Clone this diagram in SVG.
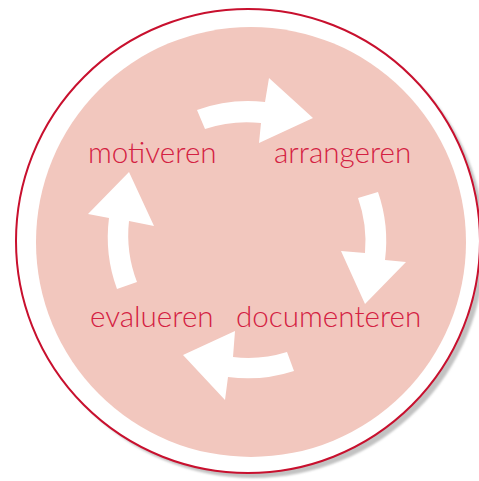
<svg xmlns="http://www.w3.org/2000/svg" width="479" height="481" viewBox="0 0 479 481">
<style>
.lbl{font-family:Lato,"Liberation Sans",sans-serif;font-weight:300;font-size:29.6px;fill:#D42142}
.arr{fill:#fff}
</style>
<defs>
<filter id="sh" x="-10%" y="-10%" width="120%" height="120%"><feGaussianBlur stdDeviation="1"/></filter>
</defs>
<g id="background">
<circle cx="253" cy="246" r="232" fill="#c2c2c2" filter="url(#sh)"/>
<circle cx="248" cy="241" r="232" fill="#fff" stroke="#C8102E" stroke-width="2"/>
<circle cx="251" cy="242" r="215" fill="#F2C7BE"/>
</g>
<g id="connectors">
<path class="arr" d="M197,110 A150,150 0 0 1 265,102 L269,78 L313,118 L259,143 L261,123 A130,130 0 0 0 205,129 Z"/>
<path class="arr" d="M358,198 L378,192 A150,150 0 0 1 385,260 L406,262 L365,304 L341,251 L365,253 A130,130 0 0 0 358,198 Z"/>
<path class="arr" d="M294,371 A150,150 0 0 1 228,377 L225,400 L183,355 L235,331 L233,357 A130,130 0 0 0 287,352 Z"/>
<path class="arr" d="M117,289 A150,150 0 0 1 109,218 L88,214 L129,172 L154,226 L129,221 A130,130 0 0 0 137,282 Z"/>
</g>
<g id="node-motiveren"><text class="lbl" x="88" y="163">motiveren</text></g>
<g id="node-arrangeren"><text class="lbl" x="274" y="163">arrangeren</text></g>
<g id="node-documenteren"><text class="lbl" x="236" y="327">documenteren</text></g>
<g id="node-evalueren"><text class="lbl" x="90" y="327">evalueren</text></g>
</svg>
